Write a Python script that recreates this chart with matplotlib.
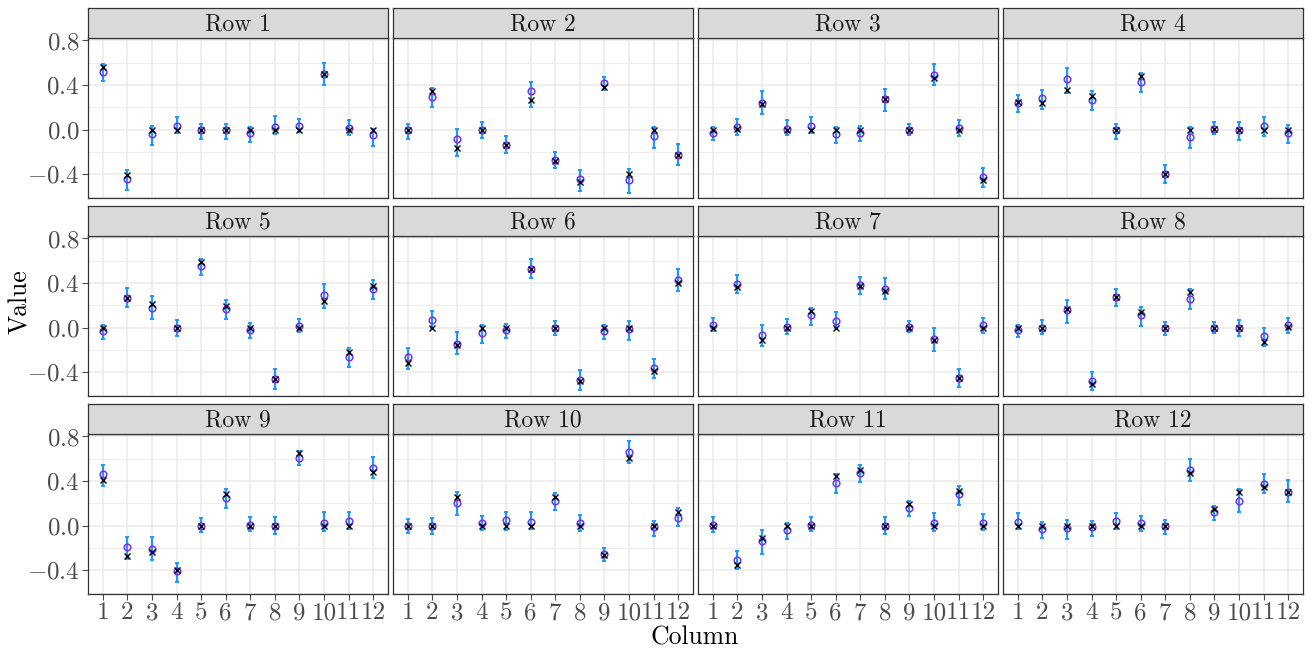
import matplotlib
matplotlib.use("Agg")
import matplotlib.pyplot as plt
from matplotlib.ticker import FixedLocator, FormatStrFormatter

plt.rcParams["font.family"] = "serif"
plt.rcParams["font.serif"] = ["cmr10"]
plt.rcParams["mathtext.fontset"] = "cm"
plt.rcParams["axes.formatter.use_mathtext"] = True

columns = [str(i) for i in range(1, 13)]
panel_titles = [f"Row {i}" for i in range(1, 13)]
y_major = [-0.4, 0.0, 0.4, 0.8]
y_minor = [-0.6, -0.2, 0.2, 0.6]

# true values (crosses)
truth = [
    [0.56, -0.41, 0.0, 0.0, 0.0, 0.0, 0.0, 0.0, 0.0, 0.50, 0.0, 0.0],
    [0.0, 0.345, -0.167, 0.0, -0.135, 0.265, -0.28, -0.47, 0.385, -0.395, 0.0, -0.225],
    [0.0, 0.01, 0.23, 0.0, 0.0, 0.0, 0.0, 0.275, 0.0, 0.465, 0.0, -0.45],
    [0.245, 0.24, 0.355, 0.30, 0.0, 0.485, -0.395, 0.0, 0.01, 0.0, 0.0, 0.0],
    [0.0, 0.27, 0.21, 0.0, 0.59, 0.195, 0.0, -0.46, 0.0, 0.24, -0.22, 0.375],
    [-0.32, 0.0, -0.155, 0.0, 0.0, 0.53, 0.0, -0.48, 0.0, 0.0, -0.39, 0.40],
    [0.0, 0.365, -0.11, 0.0, 0.15, 0.0, 0.375, 0.33, 0.0, -0.11, -0.455, 0.0],
    [0.0, 0.0, 0.165, -0.50, 0.275, 0.145, 0.0, 0.32, 0.0, 0.0, -0.125, 0.01],
    [0.41, -0.275, -0.235, -0.395, 0.0, 0.28, 0.0, 0.0, 0.65, 0.0, 0.0, 0.485],
    [0.0, 0.0, 0.255, 0.0, 0.0, 0.0, 0.255, 0.0, -0.265, 0.605, 0.0, 0.12],
    [0.0, -0.35, -0.11, 0.0, 0.0, 0.445, 0.50, 0.0, 0.195, 0.0, 0.31, 0.0],
    [0.0, 0.0, 0.0, 0.0, 0.0, 0.0, 0.0, 0.47, 0.15, 0.305, 0.345, 0.305],
]

# point estimates (open circles)
estimate = [
    [0.52, -0.44, -0.035, 0.03, -0.005, -0.005, -0.03, 0.025, 0.03, 0.50, 0.015, -0.045],
    [-0.005, 0.295, -0.085, 0.0, -0.14, 0.345, -0.27, -0.445, 0.42, -0.455, -0.06, -0.225],
    [-0.025, 0.025, 0.24, 0.01, 0.035, -0.04, -0.025, 0.275, 0.0, 0.49, 0.015, -0.425],
    [0.24, 0.28, 0.455, 0.265, 0.0, 0.43, -0.395, -0.065, 0.01, -0.005, 0.03, -0.025],
    [-0.025, 0.27, 0.18, 0.0, 0.55, 0.165, -0.02, -0.46, 0.015, 0.29, -0.26, 0.35],
    [-0.265, 0.065, -0.145, -0.05, -0.02, 0.53, 0.0, -0.465, -0.03, -0.015, -0.365, 0.425],
    [0.025, 0.395, -0.065, 0.01, 0.115, 0.06, 0.38, 0.35, 0.01, -0.10, -0.45, 0.02],
    [-0.02, 0.0, 0.155, -0.48, 0.275, 0.115, 0.0, 0.26, 0.0, 0.0, -0.075, 0.02],
    [0.465, -0.19, -0.205, -0.41, 0.0, 0.245, 0.01, 0.0, 0.605, 0.025, 0.04, 0.52],
    [0.0, 0.0, 0.20, 0.02, 0.05, 0.035, 0.22, 0.02, -0.255, 0.66, -0.015, 0.07],
    [0.005, -0.31, -0.14, -0.04, 0.01, 0.385, 0.47, 0.0, 0.16, 0.025, 0.28, 0.02],
    [0.03, -0.025, -0.02, -0.015, 0.04, 0.02, 0.0, 0.50, 0.12, 0.225, 0.375, 0.305],
]

# interval lower bounds
lower = [
    [0.44, -0.54, -0.135, -0.03, -0.085, -0.085, -0.11, -0.04, -0.02, 0.40, -0.05, -0.15],
    [-0.08, 0.20, -0.235, -0.07, -0.21, 0.20, -0.345, -0.545, 0.355, -0.565, -0.16, -0.32],
    [-0.09, -0.045, 0.14, -0.05, -0.025, -0.12, -0.10, 0.17, -0.05, 0.40, -0.055, -0.515],
    [0.155, 0.19, 0.33, 0.18, -0.08, 0.34, -0.48, -0.165, -0.04, -0.095, -0.055, -0.115],
    [-0.10, 0.185, 0.075, -0.07, 0.475, 0.075, -0.09, -0.55, -0.035, 0.18, -0.35, 0.255],
    [-0.37, 0.0, -0.24, -0.135, -0.095, 0.445, -0.065, -0.56, -0.105, -0.11, -0.455, 0.33],
    [-0.03, 0.31, -0.165, -0.055, 0.025, 0.0, 0.30, 0.255, -0.04, -0.205, -0.535, -0.05],
    [-0.085, -0.055, 0.045, -0.56, 0.195, 0.015, -0.065, 0.165, -0.05, -0.075, -0.165, -0.05],
    [0.36, -0.30, -0.305, -0.50, -0.06, 0.155, -0.045, -0.075, 0.54, -0.05, -0.025, 0.43],
    [-0.065, -0.07, 0.10, -0.04, -0.035, -0.03, 0.145, -0.05, -0.315, 0.565, -0.095, -0.005],
    [-0.055, -0.39, -0.25, -0.12, -0.05, 0.295, 0.395, -0.07, 0.09, -0.045, 0.19, -0.04],
    [-0.025, -0.11, -0.115, -0.09, -0.03, -0.045, -0.07, 0.40, 0.055, 0.12, 0.29, 0.215],
]

# interval upper bounds
upper = [
    [0.59, -0.36, 0.035, 0.11, 0.05, 0.055, 0.025, 0.12, 0.10, 0.60, 0.09, 0.01],
    [0.055, 0.37, 0.01, 0.065, -0.055, 0.43, -0.20, -0.36, 0.475, -0.35, 0.025, -0.13],
    [0.025, 0.10, 0.345, 0.085, 0.11, 0.025, 0.03, 0.365, 0.05, 0.59, 0.09, -0.34],
    [0.31, 0.36, 0.55, 0.345, 0.055, 0.51, -0.315, 0.02, 0.07, 0.065, 0.115, 0.04],
    [0.02, 0.36, 0.28, 0.065, 0.62, 0.245, 0.04, -0.37, 0.08, 0.395, -0.18, 0.43],
    [-0.18, 0.15, -0.035, 0.02, 0.03, 0.62, 0.06, -0.375, 0.025, 0.06, -0.28, 0.525],
    [0.09, 0.475, 0.025, 0.08, 0.18, 0.145, 0.455, 0.445, 0.06, 0.0, -0.37, 0.09],
    [0.025, 0.065, 0.245, -0.40, 0.35, 0.19, 0.055, 0.35, 0.05, 0.07, 0.0, 0.085],
    [0.545, -0.105, -0.105, -0.33, 0.065, 0.325, 0.075, 0.075, 0.67, 0.125, 0.125, 0.615],
    [0.06, 0.07, 0.30, 0.085, 0.125, 0.12, 0.29, 0.10, -0.20, 0.755, 0.04, 0.16],
    [0.08, -0.225, -0.04, 0.02, 0.08, 0.465, 0.545, 0.08, 0.22, 0.115, 0.36, 0.105],
    [0.11, 0.03, 0.05, 0.045, 0.115, 0.09, 0.055, 0.595, 0.18, 0.325, 0.465, 0.41],
]

W, H = 1314, 649
fig = plt.figure(figsize=(W / 100, H / 100), dpi=100)

lefts = [88, 393, 698, 1003]
panel_w = 300
strip_tops = [8, 206, 404]
strip_h = 30
plot_h = 160

grid_col = "#EBEBEB"
border_col = "#333333"
tick_col = "#4D4D4D"
bar_col = "#1E96FF"
circ_col = "#7A33E0"

xpos = list(range(1, 13))

def px_box(left, top, w, h):
    return [left / W, 1 - (top + h) / H, w / W, h / H]

for k in range(12):
    r, c = divmod(k, 4)
    top = strip_tops[r]
    ax = fig.add_axes(px_box(lefts[c], top + strip_h, panel_w, plot_h))
    ax.set_xlim(0.4, 12.6)
    ax.set_ylim(-0.612, 0.822)
    ax.yaxis.set_major_locator(FixedLocator(y_major))
    ax.yaxis.set_minor_locator(FixedLocator(y_minor))
    ax.yaxis.set_major_formatter(FormatStrFormatter("$%.1f$"))
    ax.set_xticks(xpos)
    ax.grid(True, which="major", color=grid_col, linewidth=1.1, zorder=0)
    ax.grid(True, which="minor", axis="y", color=grid_col, linewidth=0.6, zorder=0)
    ax.set_axisbelow(True)
    for s in ax.spines.values():
        s.set_color(border_col)
        s.set_linewidth(0.9)
    ax.tick_params(which="minor", length=0)
    ax.tick_params(which="major", length=4, width=0.8, color=tick_col,
                   labelcolor=tick_col, labelsize=18, pad=2)
    if r == 2:
        ax.set_xticklabels(columns)
    else:
        ax.set_xticklabels([])
        ax.tick_params(axis="x", length=0)
    if c != 0:
        ax.set_yticklabels([])
        ax.tick_params(axis="y", length=0)

    est = estimate[k]
    lo = lower[k]
    hi = upper[k]
    yerr = [[e - l for e, l in zip(est, lo)], [h - e for e, h in zip(est, hi)]]
    ax.errorbar(xpos, est, yerr=yerr, fmt="none", ecolor=bar_col,
                elinewidth=1.6, capsize=1.6, capthick=1.4, zorder=2)
    ax.plot(xpos, est, linestyle="none", marker="o", markersize=4.8,
            markerfacecolor="none", markeredgecolor=circ_col,
            markeredgewidth=1.1, zorder=3)
    ax.plot(xpos, truth[k], linestyle="none", marker="x", markersize=3.8,
            color="black", markeredgewidth=1.0, zorder=4)

    sax = fig.add_axes(px_box(lefts[c], top, panel_w, strip_h))
    sax.set_facecolor("#D9D9D9")
    sax.set_xticks([])
    sax.set_yticks([])
    for s in sax.spines.values():
        s.set_color(border_col)
        s.set_linewidth(0.9)
    sax.text(0.5, 0.45, panel_titles[k], transform=sax.transAxes,
             ha="center", va="center", fontsize=17, color="#1A1A1A")

fig.text(695 / W, 1 - 638 / H, "Column", ha="center", va="center", fontsize=18.5)
fig.text(20 / W, 1 - 302 / H, "Value", ha="center", va="center",
         rotation=90, fontsize=18.5)

fig.savefig("out.png", dpi=100)
